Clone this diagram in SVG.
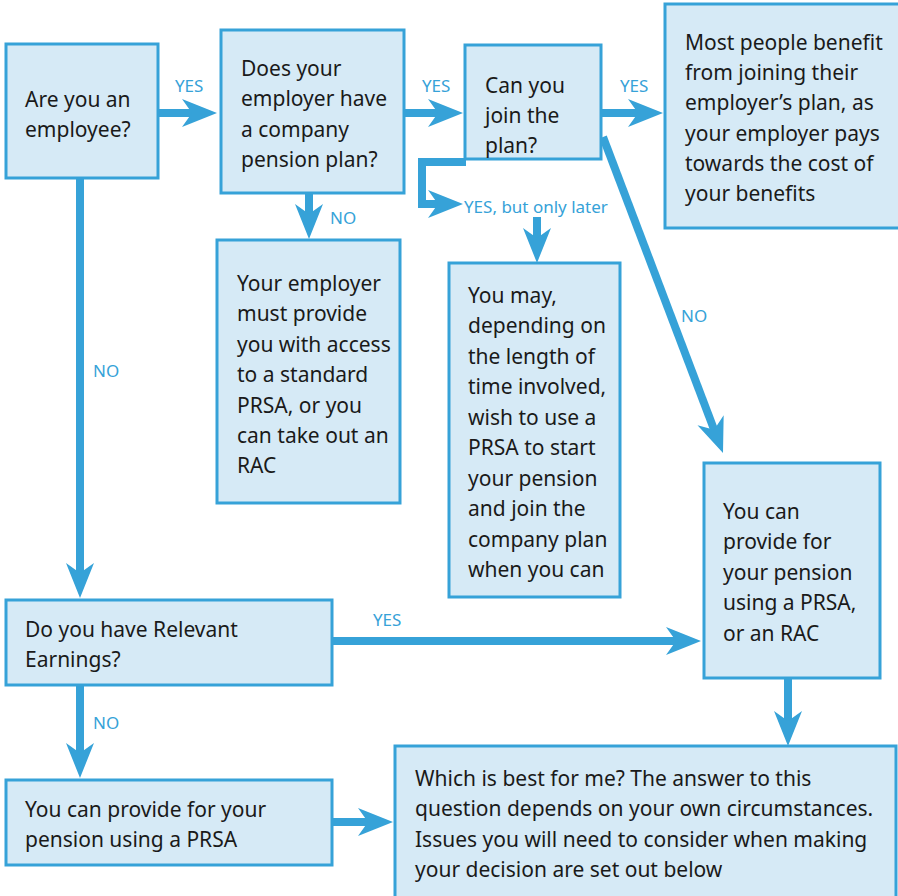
<svg xmlns="http://www.w3.org/2000/svg" width="898" height="896" viewBox="0 0 898 896">
<style>
.box{fill:#d6eaf6;stroke:#36a2d8;stroke-width:3}
.t{font-family:"Noto Sans","Liberation Sans",sans-serif;font-size:21px;fill:#1a1a1a}
.lbl{font-family:"Noto Sans","Liberation Sans",sans-serif;font-size:17px;fill:#36a2d8}
.c{fill:none;stroke:#36a2d8;stroke-width:8;marker-end:url(#ah)}
</style>
<defs>
<marker id="ah" markerUnits="userSpaceOnUse" markerWidth="36" markerHeight="30" refX="15" refY="14" orient="auto" viewBox="0 0 36 28">
<path d="M0,0 L35,14 L0,28 L10,14 Z" fill="#36a2d8"/>
</marker>
</defs>
<rect width="898" height="896" fill="#ffffff"/>
<g id="connectors">
<path class="c" d="M159 113 H197"/>
<path class="c" d="M405 113 H443"/>
<path class="c" d="M602 113 H643"/>
<path class="c" d="M309 194 V219"/>
<path class="c" d="M466 162 H422 V204 H443" stroke-linejoin="miter"/>
<path class="c" d="M537 217 V243"/>
<path class="c" d="M603 137 L715.9 434.3"/>
<path class="c" d="M80 179 V578"/>
<path class="c" d="M80 686 V758"/>
<path class="c" d="M333 641 H681"/>
<path class="c" d="M333 822 H373"/>
<path class="c" d="M788 679 V726"/>
<text class="lbl" x="175" y="92">YES</text>
<text class="lbl" x="422" y="92">YES</text>
<text class="lbl" x="620" y="92">YES</text>
<text class="lbl" x="330" y="224">NO</text>
<text class="lbl" x="464" y="213">YES, but only later</text>
<text class="lbl" x="681" y="322">NO</text>
<text class="lbl" x="93" y="377">NO</text>
<text class="lbl" x="373" y="626">YES</text>
<text class="lbl" x="93" y="729">NO</text>
</g>
<g id="n1"><rect class="box" x="6" y="44" width="152" height="134"/>
<text class="t"><tspan x="25" y="107">Are you an</tspan><tspan x="25" y="137">employee?</tspan></text></g>
<g id="n2"><rect class="box" x="221" y="30" width="183" height="163"/>
<text class="t"><tspan x="241" y="76">Does your</tspan><tspan x="241" y="106">employer have</tspan><tspan x="241" y="137">a company</tspan><tspan x="241" y="167">pension plan?</tspan></text></g>
<g id="n3"><rect class="box" x="465" y="45" width="136" height="114"/>
<text class="t"><tspan x="485" y="93">Can you</tspan><tspan x="485" y="123">join the</tspan><tspan x="485" y="153">plan?</tspan></text></g>
<g id="n4"><rect class="box" x="665" y="4" width="236" height="224"/>
<text class="t"><tspan x="685" y="50">Most people benefit</tspan><tspan x="685" y="80">from joining their</tspan><tspan x="685" y="110">employer’s plan, as</tspan><tspan x="685" y="141">your employer pays</tspan><tspan x="685" y="171">towards the cost of</tspan><tspan x="685" y="201">your benefits</tspan></text></g>
<g id="n5"><rect class="box" x="217" y="240" width="183" height="263"/>
<text class="t"><tspan x="237" y="291">Your employer</tspan><tspan x="237" y="321">must provide</tspan><tspan x="237" y="352">you with access</tspan><tspan x="237" y="382">to a standard</tspan><tspan x="237" y="413">PRSA, or you</tspan><tspan x="237" y="443">can take out an</tspan><tspan x="237" y="473">RAC</tspan></text></g>
<g id="n6"><rect class="box" x="449" y="263" width="171" height="334"/>
<text class="t"><tspan x="468" y="303">You may,</tspan><tspan x="468" y="333">depending on</tspan><tspan x="468" y="364">the length of</tspan><tspan x="468" y="394">time involved,</tspan><tspan x="468" y="425">wish to use a</tspan><tspan x="468" y="455">PRSA to start</tspan><tspan x="468" y="486">your pension</tspan><tspan x="468" y="516">and join the</tspan><tspan x="468" y="547">company plan</tspan><tspan x="468" y="577">when you can</tspan></text></g>
<g id="n7"><rect class="box" x="704" y="463" width="176" height="215"/>
<text class="t"><tspan x="723" y="519">You can</tspan><tspan x="723" y="549">provide for</tspan><tspan x="723" y="580">your pension</tspan><tspan x="723" y="610">using a PRSA,</tspan><tspan x="723" y="641">or an RAC</tspan></text></g>
<g id="n8"><rect class="box" x="6" y="600" width="326" height="85"/>
<text class="t"><tspan x="25" y="637">Do you have Relevant</tspan><tspan x="25" y="667">Earnings?</tspan></text></g>
<g id="n9"><rect class="box" x="6" y="780" width="326" height="85"/>
<text class="t"><tspan x="25" y="817">You can provide for your</tspan><tspan x="25" y="847">pension using a PRSA</tspan></text></g>
<g id="n10"><rect class="box" x="395" y="746" width="501" height="155"/>
<text class="t"><tspan x="415" y="786">Which is best for me? The answer to this</tspan><tspan x="415" y="816">question depends on your own circumstances.</tspan><tspan x="415" y="847">Issues you will need to consider when making</tspan><tspan x="415" y="877">your decision are set out below</tspan></text></g>
</svg>
